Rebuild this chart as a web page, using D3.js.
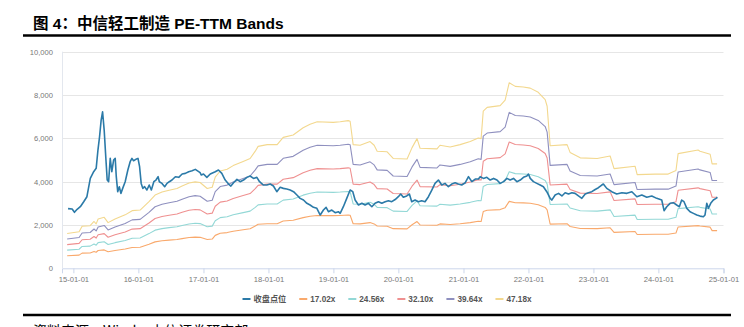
<!DOCTYPE html>
<html><head><meta charset="utf-8">
<script src="https://cdn.jsdelivr.net/npm/d3@7/dist/d3.min.js"></script>
<style>
html,body{margin:0;padding:0;background:#fff;}
svg{display:block;}
</style></head>
<body>
<svg id="c" width="744" height="327"></svg>
<script>
// ---------- DATA ----------
const titleText = "图 4：中信轻工制造 PE-TTM Bands";
const sourceText = "资料来源：Wind，中信证券研究部";
const closeName = "收盘点位";
const multiples = [17.02, 24.56, 32.10, 39.64, 47.18];
const bandNames = ["17.02x", "24.56x", "32.10x", "39.64x", "47.18x"];
const yTicks = [0, 2000, 4000, 6000, 8000, 10000];
const xTickDates = ["2015-01-01","2016-01-01","2017-01-01","2018-01-01","2019-01-01","2020-01-01","2021-01-01","2022-01-01","2023-01-01","2024-01-01","2025-01-01"];

const closeDates = [
"2014-12-02","2014-12-25","2015-01-07","2015-01-22","2015-02-09","2015-02-28","2015-03-18","2015-04-06","2015-04-25","2015-05-09",
"2015-05-19","2015-05-28","2015-06-06","2015-06-14","2015-06-23","2015-07-03","2015-07-10","2015-07-18","2015-07-27","2015-08-05",
"2015-08-15","2015-08-24","2015-08-30","2015-09-07","2015-09-16","2015-09-25","2015-10-05","2015-10-19","2015-11-03","2015-11-16",
"2015-11-26","2015-12-05","2015-12-18","2015-12-30","2016-01-08","2016-01-17","2016-01-26","2016-02-05","2016-02-18","2016-03-02",
"2016-03-14","2016-03-28","2016-04-09","2016-04-21","2016-04-28","2016-05-13","2016-05-28","2016-06-10","2016-06-23","2016-07-08",
"2016-07-27","2016-08-15","2016-09-03","2016-09-21","2016-10-10","2016-10-29","2016-11-16","2016-12-05","2016-12-13","2016-12-20",
"2017-01-01","2017-01-20","2017-02-08","2017-03-08","2017-03-26","2017-04-14","2017-05-03","2017-05-22","2017-06-04","2017-06-19",
"2017-07-08","2017-07-26","2017-08-14","2017-09-02","2017-09-20","2017-10-09","2017-10-28","2017-11-12","2017-12-04","2017-12-23",
"2018-01-11","2018-01-29","2018-02-17","2018-03-08","2018-03-26","2018-04-14","2018-05-03","2018-05-22","2018-06-10","2018-06-28",
"2018-07-17","2018-08-05","2018-08-23","2018-09-11","2018-09-30","2018-10-19","2018-11-06","2018-11-21","2018-12-04","2018-12-23",
"2019-01-11","2019-01-29","2019-02-08","2019-02-26","2019-03-17","2019-04-05","2019-04-20","2019-05-03","2019-05-22","2019-06-10",
"2019-06-28","2019-07-17","2019-08-05","2019-08-23","2019-09-11","2019-09-30","2019-10-19","2019-11-06","2019-11-25","2019-12-14",
"2020-01-01","2020-01-14","2020-01-29","2020-02-17","2020-03-03","2020-03-16","2020-04-04","2020-04-22","2020-05-11","2020-05-30",
"2020-06-18","2020-07-07","2020-07-25","2020-08-13","2020-09-01","2020-09-19","2020-10-08","2020-10-27","2020-11-15","2020-12-03",
"2020-12-22","2021-01-11","2021-01-29","2021-02-17","2021-03-08","2021-03-26","2021-04-05","2021-04-23","2021-05-12","2021-05-31",
"2021-06-19","2021-07-08","2021-07-26","2021-08-14","2021-09-02","2021-09-20","2021-10-09","2021-10-28","2021-11-16","2021-12-04",
"2021-12-23","2022-01-01","2022-01-11","2022-01-29","2022-02-17","2022-03-08","2022-03-26","2022-04-14","2022-05-03","2022-05-12",
"2022-05-31","2022-06-19","2022-07-08","2022-07-26","2022-08-14","2022-09-02","2022-09-20","2022-10-09","2022-10-28","2022-11-16",
"2022-12-04","2022-12-23","2023-01-11","2023-01-29","2023-02-17","2023-02-26","2023-03-17","2023-04-14","2023-05-12","2023-06-10",
"2023-07-08","2023-08-05","2023-09-02","2023-09-30","2023-10-28","2023-11-25","2023-12-23","2024-01-20","2024-02-02","2024-02-17",
"2024-03-07","2024-03-25","2024-04-13","2024-04-28","2024-05-11","2024-05-24","2024-06-09","2024-06-27","2024-07-16","2024-08-04",
"2024-08-22","2024-09-10","2024-09-19","2024-09-29","2024-10-08","2024-10-21","2024-11-05","2024-11-20","2024-11-28"
];
const closeValues = [
2755,2737,2584,2723,2843,3074,3305,4154,4460,4615,
5460,6073,6844,7227,6382,4998,4075,4000,5076,4460,
4998,5076,4229,3537,3767,3460,3690,3997,4537,4920,
5076,4966,5030,5076,4690,3920,3690,3770,3614,3844,
3614,3997,4075,4229,3997,3920,3767,3920,3997,4075,
4229,4200,4352,4383,4460,4500,4567,4460,4413,4306,
4352,4198,4352,4460,4537,4383,4075,3890,3798,3950,
4107,3997,4075,4198,4260,4150,4198,3997,3844,3844,
3890,3798,3537,3740,3690,3660,3614,3537,3383,3229,
3152,3000,2922,2815,2768,2460,2691,2815,2614,2691,
2567,2614,2538,2843,3229,3614,3537,3152,2922,3000,
2922,3000,2843,3000,3075,3000,3075,3120,3075,3175,
3305,3430,3280,3340,3430,3075,3150,3075,3120,3075,
3305,3614,3920,4075,3844,3920,3767,3890,3950,3890,
3844,3950,4229,4000,4120,4120,4229,4150,4200,4075,
4150,4075,3920,4000,4150,4075,4150,4000,4075,4200,
4260,4352,4150,4000,3920,3844,3767,3537,3229,3150,
3383,3460,3340,3490,3430,3490,3460,3340,3229,3430,
3490,3537,3640,3720,3844,3890,3690,3537,3430,3490,
3460,3537,3305,3383,3280,3340,3229,3152,2660,2843,
3000,3030,2922,2843,3152,3075,2768,2614,2537,2460,
2410,2383,2460,3000,2768,3000,3152,3229,3280
];

// EPS (TTM) in index points; each band = EPS x multiple
const epsDates = [
"2014-11-27","2015-02-02","2015-02-19","2015-04-05","2015-04-27","2015-05-09","2015-05-20","2015-06-23","2015-07-15","2015-08-23",
"2015-10-19","2015-11-27","2016-01-11","2016-03-01","2016-04-04","2016-05-13","2016-06-22","2016-08-05","2016-09-03","2016-10-12",
"2016-11-15","2016-12-13","2017-01-22","2017-02-19","2017-03-08","2017-04-05","2017-05-14","2017-06-17","2017-08-12","2017-09-20",
"2017-10-19","2017-11-04","2017-12-25","2018-02-19","2018-03-25","2018-05-20","2018-07-15","2018-08-23","2018-10-02","2018-12-31",
"2019-02-08","2019-03-25","2019-04-05","2019-04-22","2019-05-31","2019-07-26","2019-08-18","2019-09-04","2019-10-30","2019-12-03",
"2020-02-19","2020-03-18","2020-04-15","2020-05-02","2020-08-05","2020-08-22","2020-10-18","2020-12-13","2021-02-08","2021-03-25",
"2021-04-10","2021-04-22","2021-05-14","2021-07-26","2021-08-23","2021-09-15","2021-10-19","2021-12-03","2022-01-11","2022-02-25",
"2022-04-05","2022-04-16","2022-05-03","2022-08-06","2022-08-23","2022-10-19","2023-01-22","2023-04-05","2023-04-27","2023-08-23",
"2023-09-04","2023-12-14","2024-02-25","2024-04-09","2024-04-21","2024-08-11","2024-08-22","2024-10-18","2024-10-29","2024-11-26"
];
const epsValues = [
34.1,35.8,41.1,41.7,45.8,43.5,48.2,49.9,44.7,48.2,
52.3,56.4,57.0,65.2,71.7,74.6,76.4,78.1,80.5,83.4,
84.6,84.0,78.1,79.3,89.3,95.2,96.9,100.5,104.6,107.5,
114.6,119.3,121.0,121.0,128.1,130.4,137.5,141.0,143.4,142.8,
143.4,144.5,143.9,121.0,120.4,124.0,120.4,114.6,114.0,107.5,
106.9,118.1,126.9,117.5,116.9,120.4,118.7,121.0,124.0,127.5,
126.9,153.9,157.5,159.2,164.5,181.6,178.0,177.4,176.3,172.2,
165.1,158.6,119.9,121.0,113.4,108.1,107.5,109.9,97.5,99.9,
91.7,92.2,92.2,95.8,112.2,115.7,114.6,111.6,102.2,102.2
];

// ---------- STYLE / LAYOUT ----------
const closeColor = "#2b7aa8";
const bandColors = ["#f9a96c", "#93d8d6", "#ef9090", "#8f90bf", "#f3d88e"];
const M = {left: 62, right: 723.5, top: 51.7, bottom: 268.3};

const svg = d3.select("#c");
const parse = d3.utcParse("%Y-%m-%d");

const x = d3.scaleUtc()
  .domain([parse("2014-10-29"), parse("2025-01-01")])
  .range([M.left, M.right]);
const y = d3.scaleLinear().domain([0, 10000]).range([M.bottom, M.top]);

// title
svg.append("text").attr("x", 33).attr("y", 28.5)
  .attr("font-family", "'Liberation Sans','Noto Sans CJK SC',sans-serif")
  .attr("font-weight", "bold").attr("font-size", 15.5).attr("fill", "#000")
  .text(titleText);
svg.append("line").attr("x1", 23).attr("x2", 731).attr("y1", 35.5).attr("y2", 35.5)
  .attr("stroke", "#000").attr("stroke-width", 2.6);

// gridlines
const gridVals = yTicks.filter(v => v > 0);
svg.append("g").selectAll("line").data(gridVals).join("line")
  .attr("x1", M.left).attr("x2", M.right)
  .attr("y1", d => Math.round(y(d)) + 0.5).attr("y2", d => Math.round(y(d)) + 0.5)
  .attr("stroke", "#e6e6e6").attr("stroke-width", 1);

// y axis line
svg.append("line").attr("x1", M.left + 0.5).attr("x2", M.left + 0.5)
  .attr("y1", M.top).attr("y2", M.bottom).attr("stroke", "#e3e7ee");

// y axis labels
const yAxis = d3.axisLeft(y).tickValues(yTicks).tickFormat(d3.format(",")).tickSize(0).tickPadding(0);
const gy = svg.append("g").attr("transform", `translate(${M.left - 9},0)`).call(yAxis);
gy.select(".domain").remove();
gy.selectAll("text").attr("font-family", "'Liberation Sans',Arial,sans-serif")
  .attr("font-size", 7.6).attr("fill", "#777");

// x axis
const xAxis = d3.axisBottom(x).tickValues(xTickDates.map(parse))
  .tickFormat(d3.utcFormat("%y-%m-%d")).tickSize(5).tickSizeOuter(5).tickPadding(3);
const gx = svg.append("g").attr("transform", `translate(0,${M.bottom})`).call(xAxis);
gx.select(".domain").attr("stroke", "#ccd6eb");
gx.selectAll(".tick line").attr("stroke", "#ccd6eb");
gx.selectAll("text").attr("font-family", "'Liberation Sans',Arial,sans-serif")
  .attr("font-size", 7.6).attr("fill", "#777");

// bands
const epsData = epsDates.map((d, i) => ({date: parse(d), eps: epsValues[i]}));
multiples.forEach((m, k) => {
  const line = d3.line().x(d => x(d.date)).y(d => y(d.eps * m));
  svg.append("path").datum(epsData).attr("d", line)
    .attr("fill", "none").attr("stroke", bandColors[k]).attr("stroke-width", 1.1)
    .attr("stroke-linejoin", "round");
});

// close
const closeData = closeDates.map((d, i) => ({date: parse(d), v: closeValues[i]}));
svg.append("path").datum(closeData)
  .attr("d", d3.line().x(d => x(d.date)).y(d => y(d.v)))
  .attr("fill", "none").attr("stroke", closeColor).attr("stroke-width", 1.6)
  .attr("stroke-linejoin", "round");

// legend
const legendItems = [{name: closeName, color: closeColor}]
  .concat(bandNames.map((n, i) => ({name: n, color: bandColors[i]})));
const lg = svg.append("g");
let lx = 242.5;
const ly = 299;
legendItems.forEach(it => {
  lg.append("line").attr("x1", lx).attr("x2", lx + 8).attr("y1", ly).attr("y2", ly)
    .attr("stroke", it.color).attr("stroke-width", 2);
  const t = lg.append("text").attr("x", lx + 11).attr("y", ly + 3)
    .attr("font-family", "'Liberation Sans','Noto Sans CJK SC',sans-serif")
    .attr("font-size", 8.2).attr("font-weight", "bold").attr("fill", "#555").text(it.name);
  lx += 11 + t.node().getComputedTextLength() + 13;
});

// bottom rule + source
svg.append("line").attr("x1", 23).attr("x2", 731).attr("y1", 315).attr("y2", 315)
  .attr("stroke", "#000").attr("stroke-width", 2.6);
svg.append("text").attr("x", 33).attr("y", 336)
  .attr("font-family", "'Noto Sans CJK SC',sans-serif")
  .attr("font-size", 14).attr("fill", "#000").text(sourceText);
</script>
</body></html>
